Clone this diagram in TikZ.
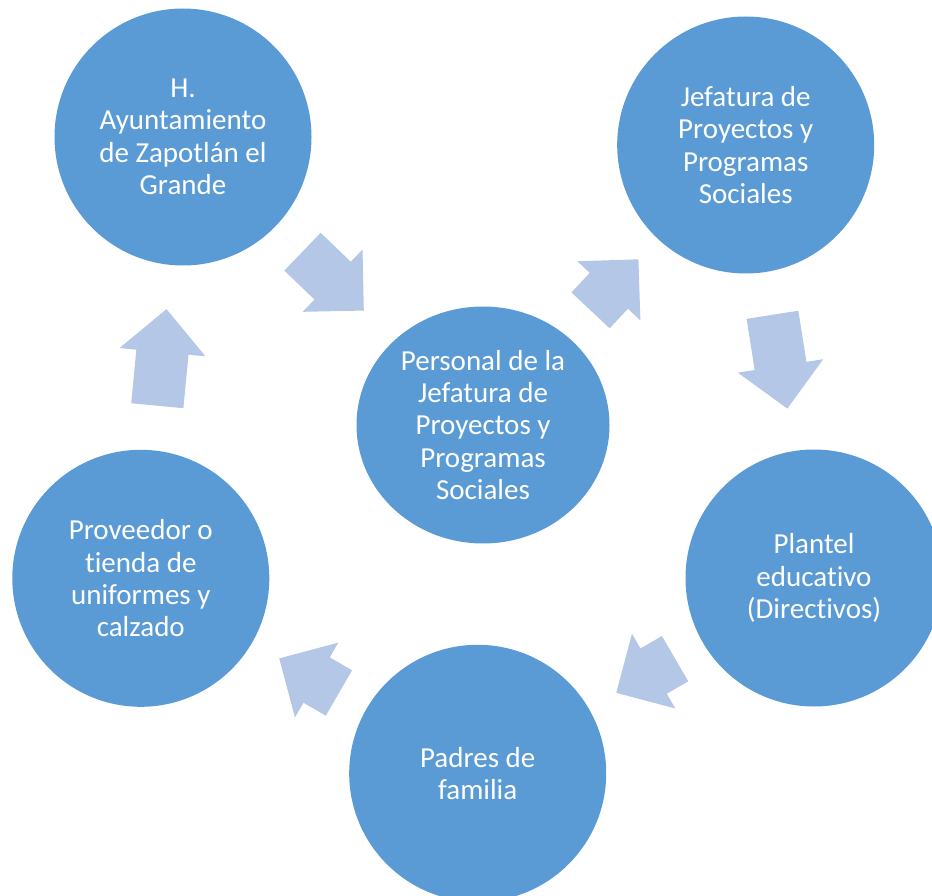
\documentclass[tikz,border=0pt]{standalone}
\usepackage{fontspec}
\setmainfont{Carlito}[Ligatures=NoCommon]
\usetikzlibrary{calc,shapes.geometric,shapes.arrows}
\definecolor{circulo}{HTML}{5B9BD5}
\definecolor{flechita}{HTML}{B4C7E7}
\tikzstyle{actor}=[circle,fill=circulo,minimum size=257pt,inner sep=0pt,text=white,align=center,font=\fontsize{29}{32.4}\selectfont]
\tikzstyle{flecha}=[single arrow,fill=flechita,inner xsep=0pt,inner ysep=26pt,single arrow head extend=17pt,anchor=tail]

\begin{document}
\begin{tikzpicture}[x=1pt,y=-1pt]
            \useasboundingbox (0,0) rectangle (932,896);
            \node[actor] (ayto) at (183,137) {H.\\Ayuntamiento\\de Zapotlán el\\Grande};
            \node[actor] (jefatura) at (745.7,145) {Jefatura de\\Proyectos y\\Programas\\Sociales};
            \node[actor,ellipse,minimum width=253pt,minimum height=237pt] (personal) at (483,425)
                {Personal de la\\Jefatura de\\Proyectos y\\Programas\\Sociales};
            \node[actor] (plantel) at (814,578) {Plantel\\educativo\\(Directivos)};
            \node[actor] (padres) at (477.7,773.3) {Padres de\\familia};
            \node[actor] (proveedor) at (140.8,578.3) {Proveedor o\\tienda de\\uniformes y\\calzado};
            % flechas entre cada par de circulos
            \foreach \desde/\hasta/\largo [evaluate=\largo as \mitad using \largo/2] in
                {ayto/personal/85,personal/jefatura/70,jefatura/plantel/95,
                plantel/padres/68,padres/proveedor/69,proveedor/ayto/97}
                \path let \p1=($(\hasta)-(\desde)$), \n1={atan2(\y1,\x1)} in
                    coordinate (medio) at ($(\desde)!0.5!(\hasta)$)
                    node[flecha,minimum height=\largo pt,rotate=\n1] at ($(medio)!\mitad pt!(\desde)$) {};
\end{tikzpicture}
\end{document}
